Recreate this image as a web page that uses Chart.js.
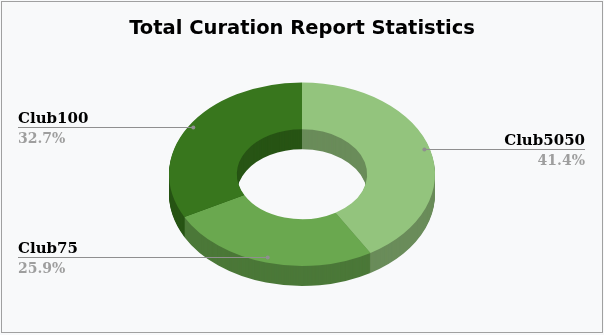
<!DOCTYPE html>
<html>
<head>
<meta charset="utf-8">
<script src="https://cdn.jsdelivr.net/npm/chart.js@4.4.0/dist/chart.umd.min.js"></script>
<style>
  html, body { margin: 0; padding: 0; background: #ffffff; }
  canvas { display: block; }
</style>
</head>
<body>
<canvas id="curationChart" width="604" height="335"></canvas>
<script>
// DATA
const clubLabels = ['Club5050', 'Club75', 'Club100'];
const clubShares = [41.4, 25.9, 32.7];
const topColors = ['#93c47d', '#6aa84f', '#38761d'];
const sideColors = ['#6a8c5a', '#4b7838', '#275414'];

// fake 3d: squash the ring vertically and stack darker copies under it
const TILT = 0.69;
const DEPTH = 20;

function withTilt(ctx, arc, dy, fn) {
    ctx.save();
    ctx.translate(arc.x, arc.y + dy);
    ctx.scale(1, TILT);
    ctx.translate(-arc.x, -arc.y);
    fn();
    ctx.restore();
}

// ===================================================
// 3D DONUT PLUGIN
// ===================================================
const donut3d = {
    id: 'donut3d',
    beforeDraw(chart) {
        const ctx = chart.ctx;
        ctx.save();
        ctx.fillStyle = '#f8f9fa';
        ctx.fillRect(0, 0, chart.width, chart.height);
        ctx.strokeStyle = '#a0a0a0';
        ctx.lineWidth = 1;
        ctx.strokeRect(1.5, 1.5, 601, 331);
        ctx.restore();
    },
    beforeDatasetsDraw(chart) {
        const ctx = chart.ctx;
        const arcs = chart.getDatasetMeta(0).data;

        // side walls
        for (let dy = DEPTH; dy > 0; dy--) {
            arcs.forEach((arc, i) => {
                const opts = arc.options;
                arc.options = Object.assign({}, opts, { backgroundColor: sideColors[i] });
                withTilt(ctx, arc, dy, () => arc.draw(ctx));
                arc.options = opts;
            });
        }

        // top face gets drawn by chart.js inside this transform
        const c = arcs[0];
        ctx.save();
        ctx.translate(c.x, c.y);
        ctx.scale(1, TILT);
        ctx.translate(-c.x, -c.y);
    },
    afterDatasetsDraw(chart) {
        const ctx = chart.ctx;
        ctx.restore();

        const arcs = chart.getDatasetMeta(0).data;
        const total = clubShares.reduce((a, b) => a + b, 0);

        arcs.forEach((arc, i) => {
            const mid = (arc.startAngle + arc.endAngle) / 2;
            const r = arc.outerRadius * 0.955;
            const px = arc.x + Math.cos(mid) * r;
            const py = Math.round(arc.y + Math.sin(mid) * r * TILT - 1.5) + 0.5;
            const onRight = px > arc.x;
            const edge = onRight ? 585 : 18;

            // connector
            ctx.save();
            ctx.strokeStyle = '#8f8f8f';
            ctx.lineWidth = 1;
            ctx.beginPath();
            ctx.moveTo(px, py);
            ctx.lineTo(edge, py);
            ctx.stroke();
            ctx.fillStyle = '#8f8f8f';
            ctx.beginPath();
            ctx.arc(px, py, 2, 0, Math.PI * 2);
            ctx.fill();

            // label + share
            ctx.textAlign = onRight ? 'right' : 'left';
            ctx.textBaseline = 'alphabetic';
            ctx.fillStyle = '#000000';
            ctx.font = 'bold 15px "DejaVu Serif"';
            ctx.fillText(clubLabels[i], edge, py - 4.5);
            ctx.fillStyle = '#9e9e9e';
            ctx.font = 'bold 14px "DejaVu Serif"';
            ctx.fillText((clubShares[i] / total * 100).toFixed(1) + '%', edge, py + 15.5);
            ctx.restore();
        });
    }
};

// ===================================================
// CHART
// ===================================================
new Chart(document.getElementById('curationChart'), {
    type: 'doughnut',
    data: {
        labels: clubLabels,
        datasets: [{
            data: clubShares,
            backgroundColor: topColors,
            borderWidth: 0,
            clip: false
        }]
    },
    options: {
        responsive: false,
        animation: false,
        events: [],
        radius: 133,
        cutout: '49%',
        layout: { padding: { top: 0, bottom: 27, left: 0, right: 0 } },
        plugins: {
            legend: { display: false },
            tooltip: { enabled: false },
            title: {
                display: true,
                text: 'Total Curation Report Statistics',
                color: '#000000',
                font: { family: 'DejaVu Sans', size: 19.5, weight: 'bold' },
                padding: { top: 17, bottom: 0 }
            }
        }
    },
    plugins: [donut3d]
});
</script>
</body>
</html>
